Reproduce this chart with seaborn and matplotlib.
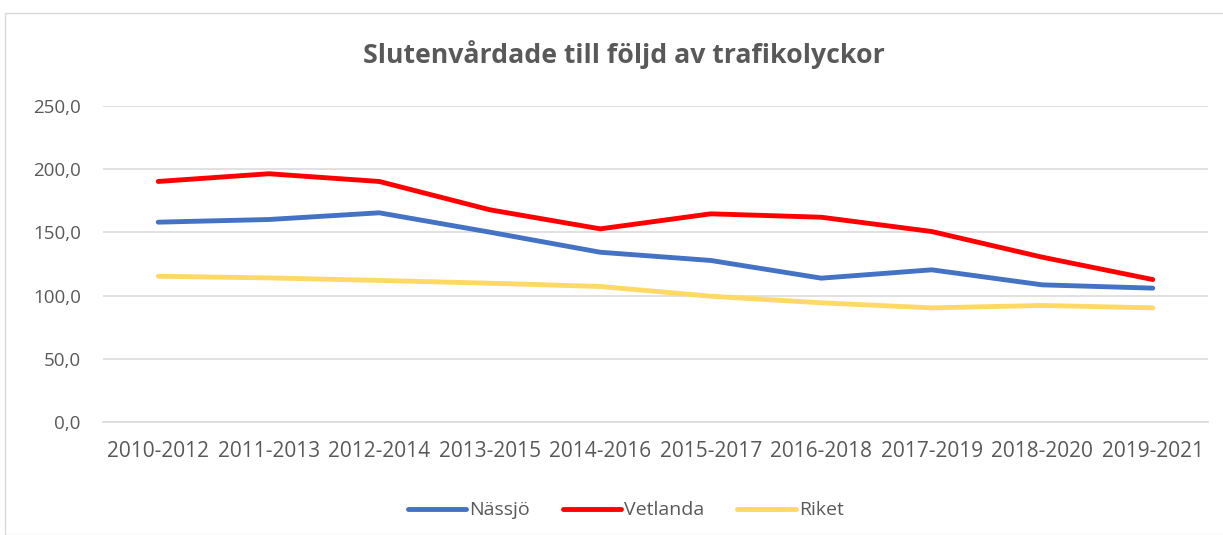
import pandas as pd
import matplotlib.pyplot as plt
import seaborn as sns
from matplotlib.patches import Rectangle
from matplotlib.ticker import FuncFormatter

# Data
perioder = ["2010-2012", "2011-2013", "2012-2014", "2013-2015", "2014-2016",
            "2015-2017", "2016-2018", "2017-2019", "2018-2020", "2019-2021"]
nassjo = [158.1, 160.2, 165.5, 150.2, 134.3, 127.8, 113.8, 120.4, 108.5, 105.9]
vetlanda = [190.3, 196.4, 190.3, 167.9, 152.8, 164.7, 162.0, 150.7, 130.4, 112.7]
riket = [115.3, 114.0, 112.0, 109.8, 107.2, 99.5, 94.3, 90.3, 92.2, 90.3]

serier = ["Nässjö", "Vetlanda", "Riket"]
farger = ["#4472C4", "#FF0000", "#FFD966"]

df = pd.DataFrame({"period": perioder * 3,
                   "värde": nassjo + vetlanda + riket,
                   "serie": [s for s in serier for _ in perioder]})
df["x"] = df["period"].map({p: i for i, p in enumerate(perioder)})

sns.set_theme(style="white")
plt.rcParams["font.family"] = ["Open Sans", "DejaVu Sans"]
textfarg = "#595959"

fig = plt.figure(figsize=(12.23, 5.35), dpi=100)
ax = fig.add_axes([103 / 1223, 1 - 422 / 535, 1105 / 1223, 316 / 535])

sns.lineplot(data=df, x="x", y="värde", hue="serie", hue_order=serier,
             palette=farger, linewidth=3.5, ax=ax, legend=True)
for line in ax.lines:
    line.set_solid_capstyle("round")
    line.set_solid_joinstyle("round")

ax.set_xlim(-0.5, len(perioder) - 0.5)
ax.set_ylim(0, 250)
ax.set_yticks(range(0, 251, 50))
ax.yaxis.set_major_formatter(FuncFormatter(lambda v, p: f"{v:.1f}".replace(".", ",")))
ax.set_xticks(range(len(perioder)))
ax.set_xticklabels(perioder)
ax.grid(axis="y", color="#D9D9D9", linewidth=1.1)
ax.set_axisbelow(True)
for s in ax.spines.values():
    s.set_visible(False)
ax.spines["bottom"].set_visible(True)
ax.spines["bottom"].set_color("#D9D9D9")
ax.spines["bottom"].set_linewidth(1.1)
ax.tick_params(axis="both", length=0, colors=textfarg)
ax.tick_params(axis="x", pad=14, labelsize=15)
ax.tick_params(axis="y", pad=16, labelsize=13.5)
ax.set_xlabel("")
ax.set_ylabel("")

fig.text(624 / 1223, 1 - 55 / 535, "Slutenvårdade till följd av trafikolyckor",
         ha="center", va="center", fontsize=19.2, fontweight="bold", color=textfarg)

leg = ax.legend(loc="center", bbox_to_anchor=(0.473, -0.28), ncol=3, frameon=False,
                fontsize=14, handlelength=3.0, handletextpad=0.15, columnspacing=1.7)
for t in leg.get_texts():
    t.set_color(textfarg)
for h in leg.get_lines():
    h.set_linewidth(3.5)
    h.set_solid_capstyle("round")

fig.patches.append(Rectangle((5 / 1223, 0), 1.2, 1 - 13 / 535, transform=fig.transFigure,
                             fill=False, edgecolor="#D9D9D9", linewidth=1.0))

fig.savefig("out.png", dpi=100, facecolor="white")
